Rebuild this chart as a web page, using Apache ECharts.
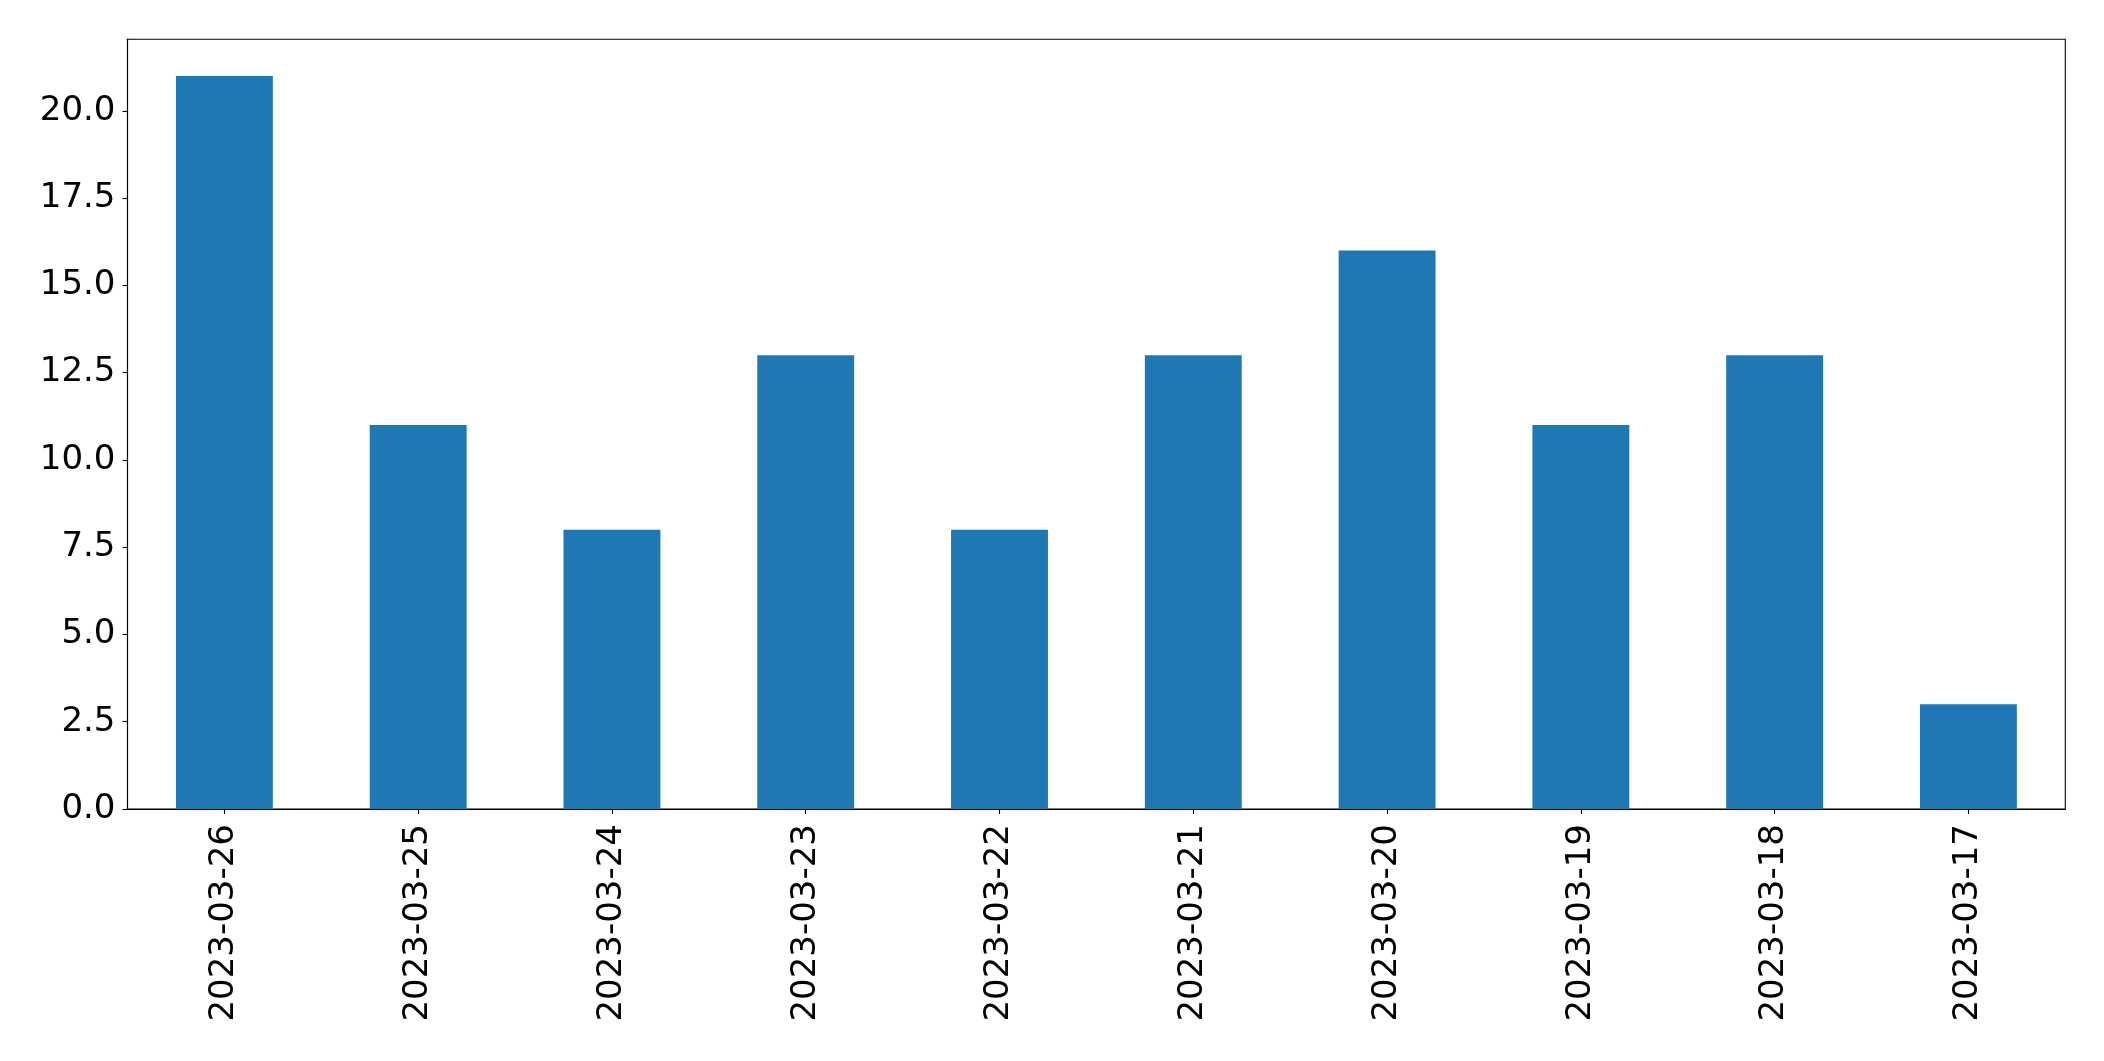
<!DOCTYPE html>
<html>
<head>
<meta charset="utf-8">
<script src="https://cdn.jsdelivr.net/npm/echarts@6/dist/echarts.min.js"></script>
<style>
html,body{margin:0;padding:0;background:#fff;}
#chart{width:2104px;height:1061px;}
</style>
</head>
<body>
<div id="chart"></div>
<script>
const categories = ['2023-03-26','2023-03-25','2023-03-24','2023-03-23','2023-03-22','2023-03-21','2023-03-20','2023-03-19','2023-03-18','2023-03-17'];
const values = [21, 11, 8, 13, 8, 13, 16, 11, 13, 3];
const yTicks = [0, 2.5, 5, 7.5, 10, 12.5, 15, 17.5, 20];

const chart = echarts.init(document.getElementById('chart'), null, {renderer: 'canvas'});
chart.setOption({
  animation: false,
  backgroundColor: '#ffffff',
  grid: {
    left: 127.5, top: 39.3, right: 38.7, bottom: 252,
    show: true, borderColor: '#000', borderWidth: 1.1, backgroundColor: 'transparent'
  },
  xAxis: {
    type: 'category',
    data: categories,
    boundaryGap: true,
    axisLine: {show: true, lineStyle: {color: '#000', width: 1.1}},
    axisTick: {show: true, alignWithLabel: true, length: 5, lineStyle: {color: '#000', width: 1.1}},
    axisLabel: {
      rotate: 90, margin: 15, color: '#000',
      fontFamily: 'DejaVu Sans', fontSize: 34, interval: 0
    },
    splitLine: {show: false}
  },
  yAxis: {
    type: 'value',
    min: 0, max: 22.05, interval: 2.5,
    axisLine: {show: true, lineStyle: {color: '#000', width: 1.1}},
    axisTick: {show: true, length: 5, lineStyle: {color: '#000', width: 1.1}, customValues: yTicks},
    axisLabel: {
      margin: 12, color: '#000', fontFamily: 'DejaVu Sans', fontSize: 34,
      customValues: yTicks, padding: [6, 0, 0, 0],
      formatter: v => v.toFixed(1)
    },
    splitLine: {show: false}
  },
  series: [{
    type: 'bar',
    data: values,
    barWidth: '50%',
    itemStyle: {color: '#1f77b4'}
  }]
});
</script>
</body>
</html>
